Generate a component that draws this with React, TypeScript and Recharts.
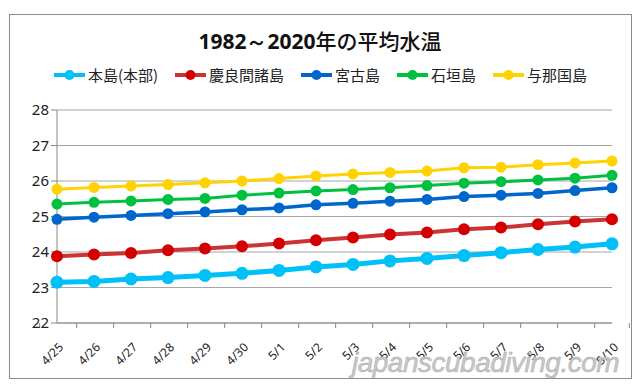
import React from 'react';
import { LineChart, Line, XAxis, YAxis, CartesianGrid } from 'recharts';

const dates = ['4/25', '4/26', '4/27', '4/28', '4/29', '4/30', '5/1', '5/2', '5/3', '5/4', '5/5', '5/6', '5/7', '5/8', '5/9', '5/10'];

const motobu = [23.15, 23.17, 23.24, 23.28, 23.34, 23.4, 23.48, 23.58, 23.65, 23.75, 23.82, 23.9, 23.98, 24.07, 24.14, 24.23];
const kerama = [23.88, 23.93, 23.97, 24.05, 24.1, 24.16, 24.24, 24.33, 24.41, 24.49, 24.55, 24.64, 24.69, 24.78, 24.86, 24.92];
const miyako = [24.92, 24.98, 25.03, 25.08, 25.13, 25.19, 25.24, 25.33, 25.37, 25.43, 25.48, 25.56, 25.6, 25.65, 25.73, 25.81];
const ishigaki = [25.35, 25.4, 25.44, 25.48, 25.51, 25.6, 25.66, 25.72, 25.76, 25.81, 25.87, 25.94, 25.98, 26.03, 26.08, 26.16];
const yonaguni = [25.77, 25.82, 25.86, 25.9, 25.95, 26.0, 26.07, 26.14, 26.2, 26.24, 26.28, 26.37, 26.39, 26.46, 26.51, 26.56];

const yTicks = [22, 23, 24, 25, 26, 27, 28];

const series = [
  { key: 'motobu', name: '本島(本部)', values: motobu, line: '#00C0F8', dot: '#00C0F8', width: 5, r: 6.5 },
  { key: 'kerama', name: '慶良間諸島', values: kerama, line: '#CC3333', dot: '#D40000', width: 4, r: 6 },
  { key: 'miyako', name: '宮古島', values: miyako, line: '#0066CC', dot: '#0066CC', width: 3.5, r: 5.5 },
  { key: 'ishigaki', name: '石垣島', values: ishigaki, line: '#00C040', dot: '#00C040', width: 3, r: 5.5 },
  { key: 'yonaguni', name: '与那国島', values: yonaguni, line: '#FFD200', dot: '#FFD200', width: 3, r: 5.5 },
];

const data = dates.map((d, i) => {
  const row: Record<string, string | number> = { date: d };
  series.forEach(s => { row[s.key] = s.values[i]; });
  return row;
});

const jpFont = '"Noto Sans CJK JP", "Noto Sans", sans-serif';
const numFont = '"Noto Sans", "Open Sans", sans-serif';

// date labels at band centers, tick marks at band edges like Excel
const DateTick = (props: any) => {
  const { x, y, payload, index } = props;
  const half = payload?.offset || 17.35;
  return (
    <g>
      <line x1={x - half} y1={y - 8} x2={x - half} y2={y - 3} stroke="#888" />
      {index === dates.length - 1 && (
        <line x1={x + half} y1={y - 8} x2={x + half} y2={y - 3} stroke="#888" />
      )}
      <text
        transform={`translate(${x + 7}, ${y + 17}) rotate(-45)`}
        textAnchor="end"
        fontSize={12}
        fontFamily={numFont}
        fill="#222"
      >
        {payload.value}
      </text>
    </g>
  );
};

const LegendIcon = ({ color, dot }: { color: string; dot: string }) => (
  <svg width={33} height={12} style={{ marginRight: 2 }}>
    <line x1={1} y1={6} x2={32} y2={6} stroke={color} strokeWidth={4} />
    <circle cx={16.5} cy={6} r={5} fill={dot} />
  </svg>
);

export default function App() {
  return (
    <div style={{ position: 'absolute', left: 0, top: 0, width: 640, height: 389, background: '#fff', overflow: 'hidden' }}>
      <div style={{ position: 'absolute', left: 9, top: 14, width: 621, height: 363, border: '1px solid #8c8c8c' }} />
      <div
        style={{
          position: 'absolute', left: 0, top: 25, width: 640, textAlign: 'center',
          fontSize: 21, color: '#111', fontFamily: jpFont,
        }}
      >
        <span style={{ fontWeight: 700, fontFamily: numFont }}>1982～2020</span>
        <span style={{ fontWeight: 500 }}>年の平均水温</span>
      </div>
      <div
        style={{
          position: 'absolute', left: 0, top: 64, width: 640, display: 'flex',
          justifyContent: 'center', alignItems: 'center', gap: 16,
          fontSize: 15, fontFamily: jpFont, color: '#222',
        }}
      >
        {series.map(s => (
          <div key={s.key} style={{ display: 'flex', alignItems: 'center' }}>
            <LegendIcon color={s.line} dot={s.dot} />
            <span>{s.name}</span>
          </div>
        ))}
      </div>
      <div style={{ position: 'absolute', left: 0, top: 0 }}>
        <LineChart width={640} height={389} data={data} margin={{ top: 110, right: 28, left: 17, bottom: 16 }}>
          <CartesianGrid vertical={false} stroke="#A6A6A6" />
          <XAxis
            dataKey="date"
            axisLine={{ stroke: '#888' }}
            tickLine={false}
            tick={<DateTick />}
            interval={0}
            height={50}
          />
          <YAxis
            domain={[22, 28]}
            ticks={yTicks}
            width={40}
            axisLine={{ stroke: '#888' }}
            tickLine={{ stroke: '#888' }}
            tickSize={6}
            tick={{ fontSize: 15, fill: '#222', fontFamily: numFont }}
          />
          {series.map(s => (
            <Line
              key={s.key}
              dataKey={s.key}
              name={s.name}
              stroke={s.line}
              strokeWidth={s.width}
              dot={{ r: s.r, fill: s.dot, stroke: 'none' }}
              isAnimationActive={false}
            />
          ))}
        </LineChart>
      </div>
      <div
        style={{
          position: 'absolute', left: 352, top: 345, fontSize: 28, lineHeight: '36px', fontStyle: 'italic',
          fontFamily: '"Liberation Sans", sans-serif', color: '#c8c8c8', letterSpacing: -0.5,
          WebkitTextStroke: '0.5px #aaa',
        }}
      >
        japanscubadiving.com
      </div>
    </div>
  );
}
